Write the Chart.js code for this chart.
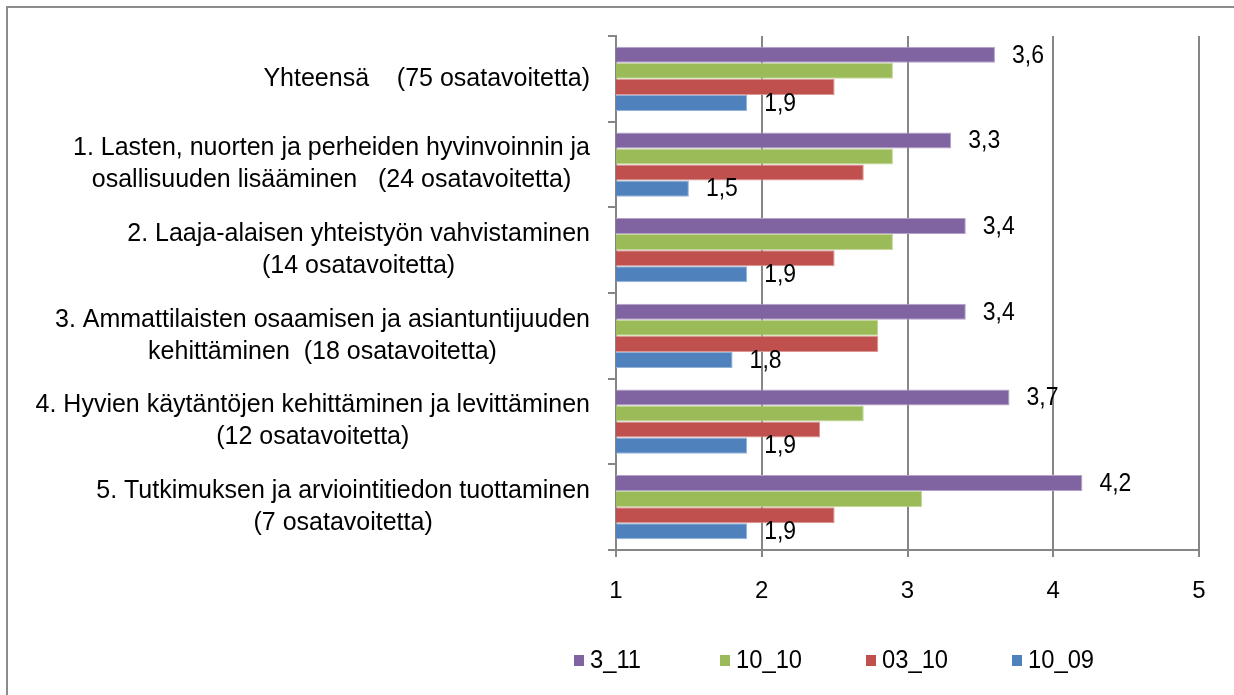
<!DOCTYPE html>
<html>
<head>
<meta charset="utf-8">
<script src="https://cdn.jsdelivr.net/npm/chart.js@4"></script>
<style>
  html, body { margin: 0; padding: 0; background: #fff; }
  #wrap { width: 1234px; height: 695px; position: relative; }
</style>
</head>
<body>
<div id="wrap"><canvas id="chart"></canvas></div>
<script>
const categories = [
    ["Yhteensä    (75 osatavoitetta)"],
    ["1. Lasten, nuorten ja perheiden hyvinvoinnin ja", "osallisuuden lisääminen   (24 osatavoitetta)"],
    ["2. Laaja-alaisen yhteistyön vahvistaminen", "(14 osatavoitetta)"],
    ["3. Ammattilaisten osaamisen ja asiantuntijuuden", "kehittäminen  (18 osatavoitetta)"],
    ["4. Hyvien käytäntöjen kehittäminen ja levittäminen", "(12 osatavoitetta)"],
    ["5. Tutkimuksen ja arviointitiedon tuottaminen", "(7 osatavoitetta)"]
];
const seriesNames = ["3_11", "10_10", "03_10", "10_09"];
const values3_11 = [3.6, 3.3, 3.4, 3.4, 3.7, 4.2];
const values10_10 = [2.9, 2.9, 2.9, 2.8, 2.7, 3.1];
const values03_10 = [2.5, 2.7, 2.5, 2.8, 2.4, 2.5];
const values10_09 = [1.9, 1.5, 1.9, 1.8, 1.9, 1.9];
const xTicks = [1, 2, 3, 4, 5];

const colors = ["#8064A2", "#9BBB59", "#C0504D", "#4F81BD"];
const edges = ["#B3A2C7", "#C3D69B", "#D99694", "#95B3D7"];
const labelled = [true, false, false, true];
const FONT = '"Liberation Sans", Arial, sans-serif';
const gridColor = "#868686";

// draw text squeezed a bit sideways, the source font is narrower
function narrowText(ctx, text, x, y, sx) {
    ctx.save();
    ctx.translate(x, y);
    ctx.scale(sx, 1);
    ctx.fillText(text, 0, 0);
    ctx.restore();
}

// frame, category labels, value labels and legend
const extras = {
    id: "extras",
    beforeDraw(chart) {
        const ctx = chart.ctx;
        ctx.save();
        ctx.strokeStyle = "#8c8c8c";
        ctx.lineWidth = 2;
        ctx.strokeRect(7, 7, 1300, 800);
        ctx.restore();
    },
    afterDraw(chart) {
        const ctx = chart.ctx;
        const yScale = chart.scales.y;
        ctx.save();
        ctx.fillStyle = "#000";
        ctx.font = "25px " + FONT;
        ctx.textBaseline = "middle";
        ctx.textAlign = "center";
        categories.forEach((lines, i) => {
            const cy = yScale.getPixelForTick(i);
            const w = Math.max(...lines.map(l => ctx.measureText(l).width));
            const cx = 590 - w / 2;
            const lh = 32;
            lines.forEach((l, j) => {
                ctx.fillText(l, cx, cy + (j - (lines.length - 1) / 2) * lh);
            });
        });

        ctx.textAlign = "left";
        chart.data.datasets.forEach((ds, di) => {
            if (!labelled[di]) return;
            chart.getDatasetMeta(di).data.forEach((bar, i) => {
                narrowText(ctx, ds.data[i].toFixed(1).replace(".", ","), bar.x + 17, bar.y + 1, 0.92);
            });
        });

        // legend
        const lx = [574, 720, 866, 1012];
        seriesNames.forEach((name, i) => {
            ctx.fillStyle = colors[i];
            ctx.fillRect(lx[i], 655, 10, 11);
            ctx.fillStyle = "#000";
            narrowText(ctx, name, lx[i] + 16, 661, 0.95);
        });
        ctx.restore();
    }
};

const seriesValues = [values3_11, values10_10, values03_10, values10_09];

new Chart(document.getElementById("chart"), {
    type: "bar",
    data: {
        labels: categories.map(c => c.join(" ")),
        datasets: seriesNames.map((name, i) => ({
            label: name,
            data: seriesValues[i],
            backgroundColor: colors[i],
            borderColor: edges[i],
            borderWidth: 1,
            categoryPercentage: 0.75,
            barPercentage: 1
        }))
    },
    options: {
        indexAxis: "y",
        responsive: true,
        maintainAspectRatio: false,
        animation: false,
        layout: { padding: { top: 36, right: 35, left: 0, bottom: 0 } },
        plugins: {
            legend: { display: false },
            tooltip: { enabled: false }
        },
        scales: {
            x: {
                min: 1,
                max: 5,
                afterFit(scale) { scale.height = 145; },
                afterBuildTicks(scale) { scale.ticks = xTicks.map(v => ({ value: v })); },
                ticks: {
                    color: "#000",
                    font: { family: FONT, size: 24 },
                    padding: 20,
                    callback: v => String(v)
                },
                grid: { color: gridColor, lineWidth: 2, tickLength: 7, tickColor: gridColor },
                border: { color: gridColor, width: 2 }
            },
            y: {
                offset: true,
                afterFit(scale) { scale.width = 616; },
                ticks: { display: false },
                grid: {
                    offset: true,
                    drawOnChartArea: false,
                    drawTicks: true,
                    tickLength: 8,
                    color: gridColor,
                    lineWidth: 2
                },
                border: { color: gridColor, width: 2 }
            }
        }
    },
    plugins: [extras]
});
</script>
</body>
</html>
